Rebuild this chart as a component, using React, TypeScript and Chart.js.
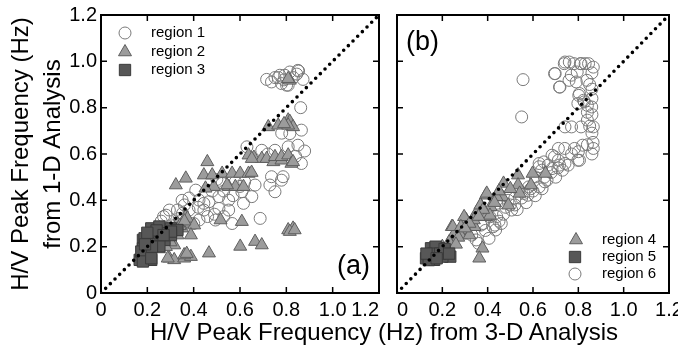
import React, { useEffect, useRef } from 'react';
import { Chart, registerables } from 'chart.js';

Chart.register(...registerables);

const FONT = "'Liberation Sans', Arial, Helvetica, sans-serif";

// ---------- axis ----------
const axisMin = 0;
const axisMax = 1.2;
const tickValues = [0, 0.2, 0.4, 0.6, 0.8, 1.0, 1.2];
const tickLabels = ['0', '0.2', '0.4', '0.6', '0.8', '1.0', '1.2'];

const yTitle = ['H/V Peak Frequency (Hz)', 'from 1-D Analysis'];
const xTitle = 'H/V Peak Frequency (Hz) from 3-D Analysis';

const diagonal: [number, number][] = [[0, 0], [1.2, 1.2]];

const legendLabelsA = ['region 1', 'region 2', 'region 3'];
const legendLabelsB = ['region 4', 'region 5', 'region 6'];

// ---------- panel (a) ----------
const region1: [number, number][] = [
  [0.715, 0.922], [0.736, 0.911], [0.751, 0.93], [0.765, 0.93], [0.772, 0.94], [0.793, 0.94],
  [0.815, 0.954], [0.85, 0.961], [0.853, 0.958], [0.872, 0.922], [0.808, 0.897], [0.779, 0.904],
  [0.801, 0.897], [0.83, 0.93], [0.845, 0.945], [0.79, 0.92],
  [0.862, 0.8], [0.865, 0.703], [0.815, 0.688], [0.78, 0.69], [0.63, 0.631], [0.694, 0.616],
  [0.751, 0.616], [0.808, 0.631], [0.85, 0.638], [0.879, 0.613], [0.865, 0.559], [0.736, 0.502],
  [0.786, 0.502], [0.779, 0.487], [0.751, 0.437], [0.729, 0.466], [0.72, 0.6], [0.84, 0.59],
  [0.409, 0.444], [0.523, 0.473], [0.58, 0.48], [0.665, 0.466], [0.608, 0.437], [0.651, 0.416],
  [0.615, 0.387], [0.551, 0.401], [0.509, 0.416], [0.466, 0.394], [0.423, 0.401], [0.444, 0.358],
  [0.509, 0.365], [0.551, 0.358], [0.38, 0.358], [0.352, 0.344], [0.295, 0.358], [0.338, 0.322],
  [0.423, 0.315], [0.494, 0.315], [0.566, 0.3], [0.687, 0.322], [0.281, 0.336], [0.33, 0.358],
  [0.444, 0.387], [0.48, 0.44], [0.38, 0.41], [0.46, 0.33], [0.53, 0.44], [0.26, 0.31],
  [0.31, 0.29], [0.4, 0.3], [0.6, 0.46], [0.5, 0.49], [0.35, 0.4], [0.27, 0.33],
  [0.57, 0.42], [0.49, 0.34], [0.42, 0.37], [0.36, 0.38], [0.53, 0.33], [0.62, 0.48],
];

const region2: [number, number][] = [
  [0.815, 0.918], [0.808, 0.925],
  [0.808, 0.746], [0.815, 0.74], [0.829, 0.717], [0.722, 0.717], [0.765, 0.724], [0.808, 0.724], [0.79, 0.73],
  [0.637, 0.595], [0.66, 0.585], [0.694, 0.58], [0.715, 0.58], [0.744, 0.566], [0.751, 0.588],
  [0.779, 0.573], [0.779, 0.588], [0.808, 0.595], [0.822, 0.559], [0.829, 0.566], [0.651, 0.58],
  [0.459, 0.566], [0.444, 0.509], [0.48, 0.509], [0.523, 0.516], [0.566, 0.516], [0.601, 0.516],
  [0.637, 0.516], [0.65, 0.52],
  [0.323, 0.466], [0.366, 0.495],
  [0.487, 0.459], [0.551, 0.459], [0.58, 0.459], [0.615, 0.459], [0.451, 0.452], [0.544, 0.466],
  [0.516, 0.315], [0.608, 0.308], [0.366, 0.33], [0.38, 0.3], [0.373, 0.322], [0.402, 0.293],
  [0.388, 0.25], [0.35, 0.28], [0.33, 0.3],
  [0.808, 0.272], [0.829, 0.279], [0.815, 0.265], [0.836, 0.272],
  [0.316, 0.207], [0.295, 0.15], [0.316, 0.143], [0.359, 0.15], [0.388, 0.157], [0.466, 0.172],
  [0.601, 0.201], [0.665, 0.222], [0.694, 0.207], [0.288, 0.15], [0.359, 0.164], [0.37, 0.17],
  [0.3, 0.22], [0.33, 0.25], [0.29, 0.26], [0.27, 0.23], [0.31, 0.27], [0.34, 0.29], [0.36, 0.31],
  [0.28, 0.2], [0.25, 0.19],
];

const region3: [number, number][] = [
  [0.181, 0.229], [0.217, 0.279], [0.252, 0.287], [0.302, 0.279], [0.33, 0.272], [0.274, 0.229],
  [0.231, 0.215], [0.181, 0.193], [0.188, 0.143], [0.167, 0.143], [0.217, 0.143], [0.202, 0.172],
  [0.302, 0.25], [0.188, 0.236], [0.174, 0.179], [0.181, 0.136], [0.217, 0.15], [0.252, 0.258],
  [0.302, 0.265], [0.252, 0.201], [0.24, 0.27], [0.27, 0.25], [0.2, 0.26], [0.22, 0.2], [0.19, 0.21],
];

// ---------- panel (b) ----------
const region4: [number, number][] = [
  [0.534, 0.509], [0.598, 0.516], [0.655, 0.516], [0.47, 0.473], [0.534, 0.466], [0.591, 0.466],
  [0.392, 0.422], [0.441, 0.415], [0.465, 0.415], [0.541, 0.43], [0.491, 0.379], [0.413, 0.372],
  [0.37, 0.379], [0.349, 0.344], [0.392, 0.329], [0.41, 0.335], [0.342, 0.286], [0.292, 0.272],
  [0.242, 0.286], [0.306, 0.315], [0.249, 0.25], [0.28, 0.25], [0.32, 0.25], [0.377, 0.193],
  [0.363, 0.15], [0.396, 0.43], [0.439, 0.415], [0.296, 0.329], [0.246, 0.286], [0.282, 0.286],
  [0.339, 0.315], [0.368, 0.379], [0.38, 0.36], [0.36, 0.33], [0.32, 0.3], [0.3, 0.28],
  [0.27, 0.24], [0.23, 0.22], [0.2, 0.2], [0.22, 0.18], [0.26, 0.21], [0.45, 0.44], [0.5, 0.45],
  [0.43, 0.39],
];

const region5: [number, number][] = [
  [0.15, 0.193], [0.185, 0.193], [0.128, 0.15], [0.164, 0.143], [0.235, 0.157], [0.2, 0.157],
  [0.14, 0.142], [0.17, 0.2], [0.16, 0.17], [0.19, 0.17], [0.13, 0.17], [0.21, 0.19], [0.23, 0.17],
  [0.175, 0.15],
];

const region6: [number, number][] = [
  [0.695, 0.947], [0.698, 0.947], [0.738, 0.99], [0.741, 0.997], [0.76, 0.997], [0.781, 0.99],
  [0.809, 0.99], [0.812, 0.99], [0.83, 0.99], [0.845, 0.99], [0.866, 0.975], [0.759, 0.918],
  [0.769, 0.94], [0.717, 0.889], [0.719, 0.889], [0.838, 0.918], [0.795, 0.954], [0.791, 0.911],
  [0.802, 0.853], [0.805, 0.861], [0.823, 0.832], [0.826, 0.825], [0.798, 0.818], [0.859, 0.803],
  [0.84, 0.81], [0.86, 0.84], [0.86, 0.88], [0.86, 0.95], [0.85, 0.9],
  [0.556, 0.921], [0.55, 0.76],
  [0.741, 0.717], [0.77, 0.717], [0.812, 0.717], [0.84, 0.746], [0.866, 0.717], [0.85, 0.72],
  [0.86, 0.77], [0.84, 0.78], [0.86, 0.6], [0.865, 0.65], [0.86, 0.69],
  [0.712, 0.624], [0.74, 0.624], [0.783, 0.624], [0.819, 0.638], [0.84, 0.64], [0.866, 0.624],
  [0.684, 0.595], [0.648, 0.566], [0.627, 0.545], [0.712, 0.573], [0.755, 0.552], [0.805, 0.573],
  [0.695, 0.588], [0.717, 0.552], [0.667, 0.552], [0.638, 0.53], [0.61, 0.501], [0.652, 0.48],
  [0.581, 0.458], [0.538, 0.444], [0.439, 0.387], [0.41, 0.329], [0.424, 0.286], [0.37, 0.293],
  [0.406, 0.236], [0.349, 0.229], [0.435, 0.272], [0.506, 0.358], [0.52, 0.38], [0.577, 0.422],
  [0.627, 0.458], [0.662, 0.487], [0.684, 0.537], [0.741, 0.559], [0.798, 0.573], [0.627, 0.559],
  [0.36, 0.214], [0.432, 0.293], [0.47, 0.34], [0.55, 0.41], [0.6, 0.44], [0.49, 0.4],
  [0.45, 0.31], [0.39, 0.27], [0.38, 0.3], [0.44, 0.33], [0.5, 0.38], [0.56, 0.43],
  [0.59, 0.45], [0.65, 0.5], [0.68, 0.52], [0.71, 0.54], [0.46, 0.3], [0.33, 0.25],
  [0.53, 0.36], [0.57, 0.39], [0.61, 0.42], [0.64, 0.45], [0.7, 0.5], [0.73, 0.53],
  [0.77, 0.6], [0.8, 0.61], [0.52, 0.41], [0.48, 0.37],
];

// ---------- styles ----------
const CIRCLE = { style: 'circle', radius: 6, fill: 'rgba(255,255,255,0)', stroke: '#7a7a7a' };
const TRIANGLE = { style: 'triangle', radius: 7.5, fill: '#9c9c9c', stroke: '#5e5e5e' };
const SQUARE = { style: 'rect', radius: 8, fill: '#575757', stroke: '#3a3a3a' };

type Pt = [number, number];
type Marker = typeof CIRCLE;

const toXY = (a: Pt[]) => a.map(([x, y]) => ({ x, y }));

function scatterSet(label: string, data: Pt[], m: Marker) {
  return {
    label,
    data: toXY(data),
    showLine: false,
    pointStyle: m.style,
    pointRadius: m.radius,
    pointHoverRadius: m.radius,
    pointBackgroundColor: m.fill,
    pointBorderColor: m.stroke,
    pointBorderWidth: 1,
    backgroundColor: m.fill,
    borderColor: m.stroke,
  };
}

function drawMarker(ctx: CanvasRenderingContext2D, m: Marker, x: number, y: number) {
  ctx.save();
  ctx.lineWidth = 1;
  ctx.fillStyle = m.fill;
  ctx.strokeStyle = m.stroke;
  ctx.beginPath();
  if (m.style === 'circle') {
    ctx.arc(x, y, m.radius, 0, Math.PI * 2);
  } else if (m.style === 'triangle') {
    const r = m.radius;
    ctx.moveTo(x, y - r);
    ctx.lineTo(x + r * Math.sin((2 * Math.PI) / 3), y + r / 2);
    ctx.lineTo(x - r * Math.sin((2 * Math.PI) / 3), y + r / 2);
    ctx.closePath();
  } else {
    const s = m.radius * Math.SQRT1_2;
    ctx.rect(x - s, y - s, 2 * s, 2 * s);
  }
  ctx.fill();
  ctx.stroke();
  ctx.restore();
}

interface PanelCfg {
  left: number;
  width: number;
  padLeft: number;
  padRight: number;
  showY: boolean;
  sets: { label: string; data: Pt[]; marker: Marker }[];
  legend: { label: string; marker: Marker; x: number; y: number }[];
  legendTextX: number;
  panelLabel: string;
  panelLabelX: number;
  panelLabelY: number;
  customX: { index: number; align: CanvasTextAlign };
}

const HEIGHT = 349;
const X_AXIS_H = 56;
const X_TICK_PAD = 5;
const TICK_FONT = 20;

function Panel({ cfg }: { cfg: PanelCfg }) {
  const ref = useRef<HTMLCanvasElement>(null);
  useEffect(() => {
    if (!ref.current) return;
    const decor = {
      id: 'decor',
      afterDraw(chart: any) {
        const { ctx, chartArea, scales } = chart;
        const { left, right, top, bottom } = chartArea;
        const xs = scales.x;
        const ys = scales.y;
        ctx.save();
        // inward ticks on all four sides
        ctx.strokeStyle = '#000';
        ctx.lineWidth = 1.5;
        const TL = 6;
        tickValues.forEach((v) => {
          const px = xs.getPixelForValue(v);
          const py = ys.getPixelForValue(v);
          ctx.beginPath();
          ctx.moveTo(px, bottom);
          ctx.lineTo(px, bottom - TL);
          ctx.moveTo(px, top);
          ctx.lineTo(px, top + TL);
          ctx.moveTo(left, py);
          ctx.lineTo(left + TL, py);
          ctx.moveTo(right, py);
          ctx.lineTo(right - TL, py);
          ctx.stroke();
        });
        // frame
        ctx.lineWidth = 2;
        ctx.strokeRect(left, top, right - left, bottom - top);
        // custom-aligned x tick label
        ctx.fillStyle = '#000';
        ctx.font = `${TICK_FONT}px ${FONT}`;
        ctx.textBaseline = 'middle';
        ctx.textAlign = cfg.customX.align;
        ctx.fillText(
          tickLabels[cfg.customX.index],
          xs.getPixelForValue(tickValues[cfg.customX.index]),
          bottom + X_TICK_PAD + TICK_FONT * 0.6
        );
        // legend
        cfg.legend.forEach((item) => {
          drawMarker(ctx, item.marker, item.x, item.y);
          ctx.fillStyle = '#000';
          ctx.font = `15px ${FONT}`;
          ctx.textAlign = 'left';
          ctx.textBaseline = 'middle';
          ctx.fillText(item.label, cfg.legendTextX, item.y);
        });
        // panel label
        ctx.font = `27px ${FONT}`;
        ctx.textAlign = 'left';
        ctx.textBaseline = 'alphabetic';
        ctx.fillText(cfg.panelLabel, cfg.panelLabelX, cfg.panelLabelY);
        ctx.restore();
      },
    };

    const datasets: any[] = [
      {
        label: 'diagonal',
        data: toXY(diagonal),
        showLine: true,
        pointRadius: 0,
        borderColor: '#000',
        borderWidth: 3.6,
        borderDash: [0, 6.6],
        borderCapStyle: 'round',
        fill: false,
      },
      ...cfg.sets.map((s) => scatterSet(s.label, s.data, s.marker)),
    ];

    const chart = new Chart(ref.current, {
      type: 'scatter',
      data: { datasets },
      options: {
        animation: false,
        responsive: false,
        devicePixelRatio: 1,
        layout: { padding: { left: cfg.padLeft, right: cfg.padRight, top: 15, bottom: 0 } },
        plugins: { legend: { display: false }, tooltip: { enabled: false } },
        scales: {
          x: {
            type: 'linear',
            min: axisMin,
            max: axisMax,
            afterBuildTicks: (s: any) => {
              s.ticks = tickValues.map((v) => ({ value: v }));
            },
            afterFit: (s: any) => {
              s.height = X_AXIS_H;
              s.paddingLeft = 0;
              s.paddingRight = 0;
            },
            grid: { display: false, drawTicks: false },
            border: { display: false },
            ticks: {
              color: '#000',
              padding: X_TICK_PAD,
              maxRotation: 0,
              autoSkip: false,
              font: { family: FONT, size: TICK_FONT },
              callback: (_v: any, i: number) => (i === cfg.customX.index ? '' : tickLabels[i]),
            },
          },
          y: {
            type: 'linear',
            display: cfg.showY,
            min: axisMin,
            max: axisMax,
            afterBuildTicks: (s: any) => {
              s.ticks = tickValues.map((v) => ({ value: v }));
            },
            afterFit: (s: any) => {
              if (cfg.showY) s.width = 101;
              s.paddingTop = 0;
              s.paddingBottom = 0;
            },
            grid: { display: false, drawTicks: false },
            border: { display: false },
            ticks: {
              color: '#000',
              padding: 4,
              autoSkip: false,
              font: { family: FONT, size: TICK_FONT },
              callback: (_v: any, i: number) => tickLabels[i],
            },
            title: {
              display: cfg.showY,
              text: yTitle,
              color: '#000',
              font: { family: FONT, size: 24, lineHeight: 1.333 },
              padding: { top: 5, bottom: 0 },
            },
          },
        },
      },
      plugins: [decor],
    } as any);
    return () => chart.destroy();
  }, [cfg]);

  return (
    <canvas
      ref={ref}
      width={cfg.width}
      height={HEIGHT}
      style={{ position: 'absolute', left: cfg.left, top: 0, width: cfg.width, height: HEIGHT, display: 'block' }}
    />
  );
}

const panelA: PanelCfg = {
  left: 0,
  width: 388,
  padLeft: 0,
  padRight: 6,
  showY: true,
  sets: [
    { label: legendLabelsA[2], data: region3, marker: SQUARE },
    { label: legendLabelsA[1], data: region2, marker: TRIANGLE },
    { label: legendLabelsA[0], data: region1, marker: CIRCLE },
  ],
  legend: [
    { label: legendLabelsA[0], marker: CIRCLE, x: 125, y: 33 },
    { label: legendLabelsA[1], marker: TRIANGLE, x: 125, y: 52 },
    { label: legendLabelsA[2], marker: SQUARE, x: 125, y: 70 },
  ],
  legendTextX: 151,
  panelLabel: '(a)',
  panelLabelX: 337,
  panelLabelY: 274,
  customX: { index: 6, align: 'right' },
};

const panelB: PanelCfg = {
  left: 388,
  width: 290,
  padLeft: 6,
  padRight: 3,
  showY: false,
  sets: [
    { label: legendLabelsB[1], data: region5, marker: SQUARE },
    { label: legendLabelsB[0], data: region4, marker: TRIANGLE },
    { label: legendLabelsB[2], data: region6, marker: CIRCLE },
  ],
  legend: [
    { label: legendLabelsB[0], marker: TRIANGLE, x: 188, y: 240 },
    { label: legendLabelsB[1], marker: SQUARE, x: 187, y: 257 },
    { label: legendLabelsB[2], marker: CIRCLE, x: 187, y: 274 },
  ],
  legendTextX: 214,
  panelLabel: '(b)',
  panelLabelX: 18,
  panelLabelY: 50,
  customX: { index: 0, align: 'left' },
};

export default function App() {
  return (
    <div
      style={{
        position: 'fixed',
        left: 0,
        top: 0,
        width: 678,
        height: 349,
        overflow: 'hidden',
        background: '#fff',
      }}
    >
      <Panel cfg={panelA} />
      <Panel cfg={panelB} />
      <div
        style={{
          position: 'absolute',
          left: 84,
          width: 600,
          top: 320,
          textAlign: 'center',
          fontFamily: FONT,
          fontSize: 24,
          lineHeight: '24px',
          color: '#000',
          whiteSpace: 'nowrap',
        }}
      >
        {xTitle}
      </div>
    </div>
  );
}
